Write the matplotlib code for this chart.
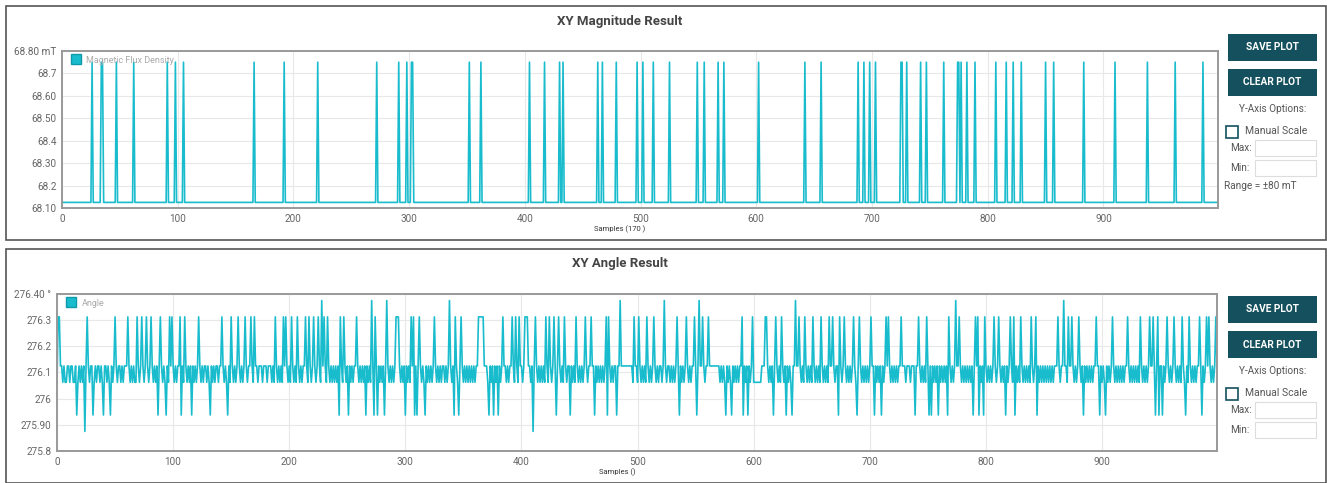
import numpy as np
import matplotlib
matplotlib.use('Agg')
import matplotlib.pyplot as plt
from matplotlib.patches import Rectangle
from matplotlib.lines import Line2D

plt.rcParams['font.family'] = ['Roboto', 'DejaVu Sans']

W, H = 1327, 483

# ---- XY magnitude data (mT) ----
n_samples = 1000
mag_base = 68.125
mag_peak = 68.75
mag_spikes = [26, 34, 35, 47, 62, 91, 98, 105, 166, 192, 221, 272, 291, 298,
              302, 303, 352, 362, 404, 417, 430, 433, 463, 467, 479, 497, 502,
              511, 525, 549, 555, 567, 572, 602, 642, 656, 688, 693, 698, 703,
              725, 726, 730, 742, 747, 762, 774, 775, 777, 782, 789, 807, 816,
              822, 829, 850, 857, 883, 910, 938, 962, 986]
mag_yticks = [68.1, 68.2, 68.3, 68.4, 68.5, 68.6, 68.7, 68.8]
mag_ylabels = ['68.10', '68.2', '68.30', '68.4', '68.50', '68.60', '68.7', '68.80 mT']

# ---- XY angle data (deg), one code per sample ----
angle_levels = {'.': 276.125, 'l': 276.0625, 'U': 276.3125,
                'D': 275.9375, 'T': 276.375, 'B': 275.875}
angle_blocks = [
    "lUU..l.ll. .l..ll.Dl. l.l.B.U.l. .Dl.l..l.l D..l.lD.l. U.l..l.l.. .U.l.l.llU .l.U.l.U.l .U.l.l.D.U .l.lD.lU.U",
    ".l.l..UD.l U.l.l.D.l. l.U.l.l..l .lD.l.l..l ..U.l.lD.l U.l.l.U.l. l.U.l..U.l U..l...l.. .l...l.lU. l.l.lU.U.l",
    ".lU.l.lU.l .l..U.lU.l .U.l.U.lT. U.lU.l.l.l .l.DU.lU.l .D.l.l..U. l.l.l.D.l. lT.DU.D.l. l.D.T.l.l. l.UUU.l.l.",
    "D.l.lU.UD. D.U.l.lD.l .l.l.U.l.l .l..l.l.T. l.DU.lD.U. l.l.l.l.l. l..UUUUU.. .lD.l.D.l. D.l.U..l.l ..U.lU.lU.",
    ".l.UUU..l. B.U.l.l.l. lU.lU.l.U. D.U.l.lU.l ..D.l.lU.l .l.l.U.l.. U..D.l.l.l .l.UDU.l.l ..D..T.... ......lU..",
    "lU.l.l.lU. l.l.U.l.l. .l.T.l..l. l.l.U.D.l. l.U.l.l..U .D.T..U.l. .U........ .l.l.lD.l. lD.l.l.l.. UD.l.D.l.U",
    "lllllll... UU.l.l.D.U .l.lU.l.D. l.lD..T..U .l.lU.l.l. lU.l.l.lU. l.l.lU..U. l..DU.l.U. l.l.l.U.lD .U.l.l.l.l",
    ".U..D.l.l. D.l.U.U.l. l.l.l..U.. .l...l...D ..U.l.l.lU .D.D.l.l.D .l.l.l.DU. l.l.T..U.l .l.l.l.l.D .U.UD.l.DU",
    ".l.l.l.U.l .U.l.l.D.l .U.lUD.l.l U.l.l.l.lU .l.UD.l.l. l.l.l.l.l. ..U.l..T.. lU..U.l.l. U.l.D.l.l. l.l..U..D.",
    "l.lD.l.l.U .l.l.l.l.l ..U.l.l.l. l.lU.l.l.l .U..U.D.UD ..D.l.U.l. l.U.l.l.lU .lD.lU.l.l .l..U.D.l. U.U.l.l.U.",
]
angle_yticks = [275.8, 275.9, 276.0, 276.1, 276.2, 276.3, 276.4]
angle_ylabels = ['275.8', '275.90', '276', '276.1', '276.2', '276.3', '276.40 \u00b0']

xticks = [0, 100, 200, 300, 400, 500, 600, 700, 800, 900]

samples = np.arange(n_samples)
mag = np.full(n_samples, mag_base)
mag[mag_spikes] = mag_peak

codes = ''.join(angle_blocks).replace(' ', '')
angle = np.array([angle_levels[c] for c in codes])

line_color = '#19bccd'
btn_color = '#14505d'


def fx(x):
    return x / W


def fy(y):
    return 1 - y / H


fig = plt.figure(figsize=(W / 100, H / 100), dpi=100)
fig.patch.set_facecolor('white')


def panel(top, title, ax_box, y, ylim, yticks, ylabels, legend_label, xlabel,
          show_range, ctrl_top):
    # outer frame
    fig.patches.append(Rectangle((fx(6), fy(top + 234)), fx(1320), 234 / H,
                                 transform=fig.transFigure, fill=False,
                                 edgecolor='#555555', linewidth=1.2))
    fig.text(fx(620), fy(top + 15), title, ha='center', va='center',
             fontsize=9.5, fontweight='bold', color='#444444')

    left, right, atop, abot = ax_box
    ax = fig.add_axes([fx(left), fy(abot), (right - left) / W, (abot - atop) / H])
    ax.plot(samples, y, color=line_color, linewidth=1.2, label=legend_label)
    ax.set_xlim(0, 999)
    ax.set_ylim(*ylim)
    ax.set_xticks(xticks)
    ax.set_yticks(yticks, ylabels)
    ax.tick_params(length=0, labelsize=7.2, colors='#666666', pad=4)
    ax.grid(True, color='#e8e8e8', linewidth=0.8)
    for s in ax.spines.values():
        s.set_color('#999999')
        s.set_linewidth(1.4)
    handle = Line2D([], [], marker='s', linestyle='none', markersize=6.5,
                    markerfacecolor=line_color, markeredgecolor='#0f9aab')
    ax.legend([handle], [legend_label], loc='upper left', frameon=False,
              fontsize=6.5, labelcolor='#aaaaaa', handletextpad=0.2,
              borderaxespad=0.3, borderpad=0.2)
    fig.text(fx((left + right) / 2 - 20), fy(abot + 21), xlabel, ha='center',
             va='center', fontsize=5.5, color='#333333')

    # right side controls
    b = ctrl_top
    for i, label in enumerate(['SAVE PLOT', 'CLEAR PLOT']):
        y0 = b + i * 35
        fig.patches.append(Rectangle((fx(1228), fy(y0 + 27)), 89 / W, 27 / H,
                                     transform=fig.transFigure,
                                     facecolor=btn_color, edgecolor='none'))
        fig.text(fx(1272.5), fy(y0 + 13.5), label, ha='center', va='center',
                 fontsize=7.3, fontweight='bold', color='white')
    fig.text(fx(1273), fy(b + 75), 'Y-Axis Options:', ha='center',
             va='center', fontsize=7.2, color='#555555')
    fig.patches.append(Rectangle((fx(1226), fy(b + 104)), 12 / W, 12 / H,
                                 transform=fig.transFigure, fill=False,
                                 edgecolor=btn_color, linewidth=1.2))
    fig.text(fx(1245), fy(b + 97), 'Manual Scale', ha='left', va='center',
             fontsize=7.5, color='#555555')
    for j, label in enumerate(['Max:', 'Min:']):
        yc = b + 114 + j * 20
        fig.text(fx(1230), fy(yc), label, ha='left', va='center',
                 fontsize=7.2, color='#555555')
        fig.patches.append(Rectangle((fx(1255), fy(yc + 8)), 61 / W, 16 / H,
                                     transform=fig.transFigure,
                                     facecolor='white', edgecolor='#dddddd',
                                     linewidth=0.8))
    if show_range:
        fig.text(fx(1224), fy(b + 152), 'Range = \u00b180 mT', ha='left',
                 va='center', fontsize=7.2, color='#555555')
    return ax


panel(6, 'XY Magnitude Result', (62, 1218, 51, 208), mag, (68.1, 68.8),
      mag_yticks, mag_ylabels, 'Magnetic Flux Density', 'Samples (170 )',
      True, 34)
panel(249, 'XY Angle Result', (57, 1217, 294, 451), angle, (275.8, 276.4),
      angle_yticks, angle_ylabels, 'Angle', 'Samples ()', False, 296)

fig.savefig('out.png', dpi=100)
